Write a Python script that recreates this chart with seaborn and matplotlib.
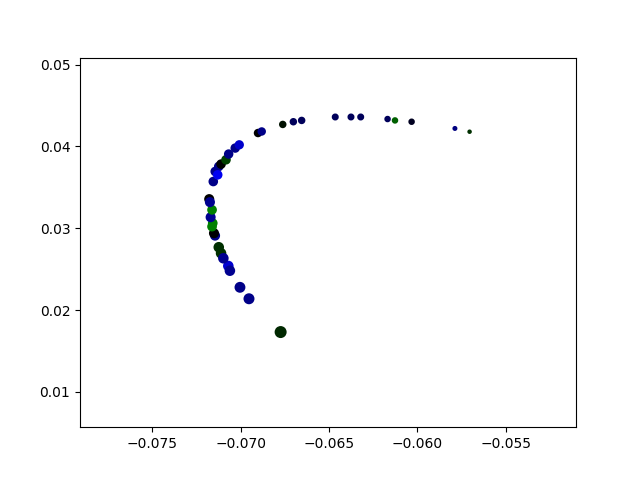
import matplotlib
matplotlib.use("Agg")
import matplotlib.pyplot as plt
import seaborn as sns
import pandas as pd

# points along the trajectory (x, y), marker sizes and colours, in draw order
x_vals = [-0.06774, -0.06953, -0.07004, -0.07070, -0.07061, -0.07124, -0.07111,
          -0.07098, -0.07145, -0.07151, -0.07158, -0.07162, -0.07170, -0.07162,
          -0.07178, -0.07174, -0.07155, -0.07144, -0.07124, -0.07130, -0.07111,
          -0.07083, -0.07068, -0.07031, -0.07008, -0.06902, -0.06881, -0.06762,
          -0.06702, -0.06655, -0.06465, -0.06376, -0.06321, -0.06169, -0.06127,
          -0.06033, -0.05788, -0.05705]
y_vals = [0.01731, 0.02138, 0.02278, 0.02539, 0.02481, 0.02768, 0.02694,
          0.02633, 0.02910, 0.02939, 0.03062, 0.03020, 0.03135, 0.03225,
          0.03356, 0.03319, 0.03571, 0.03694, 0.03755, 0.03653, 0.03784,
          0.03837, 0.03907, 0.03980, 0.04020, 0.04164, 0.04183, 0.04269,
          0.04302, 0.04318, 0.04360, 0.04360, 0.04360, 0.04335, 0.04318,
          0.04302, 0.04220, 0.04180]
sizes = [51, 41, 40, 37, 37, 37, 37,
         37, 33, 33, 30, 30, 33, 30,
         33, 33, 29, 29, 29, 29, 29,
         29, 28, 28, 27, 21, 21, 15,
         15, 15, 12.5, 12.5, 12.5, 10, 10,
         10, 4.4, 3]
colors = ['#002800', '#000088', '#000088', '#0000d0', '#000090', '#003000', '#003000',
          '#000090', '#000088', '#000000', '#008000', '#008000', '#000090', '#008000',
          '#000000', '#000090', '#000088', '#000088', '#000088', '#0000f0', '#000000',
          '#004000', '#000088', '#000088', '#0000cc', '#000000', '#000088', '#001000',
          '#00005a', '#00005a', '#00005a', '#00005a', '#00005a', '#00005a', '#006000',
          '#000020', '#000080', '#003000']

xlim = (-0.07909, -0.05103)
ylim = (0.00568, 0.05086)

ids = [f"p{i}" for i in range(len(x_vals))]
df = pd.DataFrame({"x": x_vals, "y": y_vals, "id": ids})

fig, ax = plt.subplots(figsize=(6.4, 4.8), dpi=100)
sns.scatterplot(data=df, x="x", y="y", hue="id", size="id",
                palette=dict(zip(ids, colors)), sizes=dict(zip(ids, sizes)),
                edgecolor="face", linewidth=1.5, alpha=1, legend=False, ax=ax)
ax.set_xlim(*xlim)
ax.set_ylim(*ylim)
ax.set_xlabel("")
ax.set_ylabel("")
fig.savefig("out.png", dpi=100)
